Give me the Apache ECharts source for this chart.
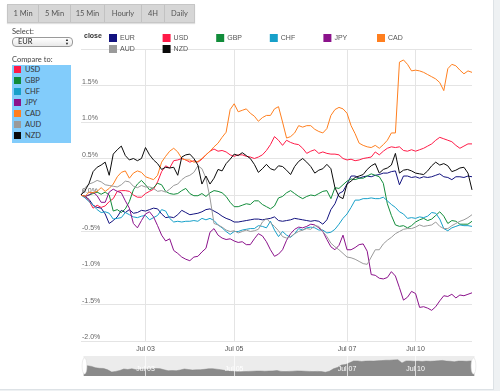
<!DOCTYPE html>
<html><head><meta charset="utf-8">
<script src="https://cdn.jsdelivr.net/npm/echarts@6/dist/echarts.min.js"></script>
<style>
html,body{margin:0;padding:0;width:500px;height:391px;overflow:hidden;background:#eef1f3;font-family:Lato,'Open Sans',sans-serif;}
#panel{position:absolute;left:0;top:0;width:493px;height:389px;background:#fff;border-right:1px solid #dde2e6;border-bottom:1px solid #dde2e6;}
#chart{position:absolute;left:0;top:0;width:500px;height:391px;z-index:2;}
#btns{position:absolute;left:7px;top:4px;height:17px;display:flex;background:#d6d6d6;border:1px solid #c6c6c6;box-shadow:0 1px 1px rgba(0,0,0,.12);z-index:5;}
#btns div{font-size:7.5px;color:#555;line-height:17px;text-align:center;border-right:1px solid #c2c2c2;}
#btns div:last-child{border-right:none;}
.lbl{position:absolute;left:12px;font-size:7.5px;color:#444;z-index:5;}
#sel{position:absolute;left:12px;top:37px;width:59px;height:8px;border:1px solid #9a9a9a;border-radius:4px;background:linear-gradient(#fff,#e9e9e9);font-size:7.5px;line-height:8px;color:#222;padding-left:0;z-index:5;}
#sel .t{position:absolute;left:5px;top:0;}
#sel .a{position:absolute;right:3px;top:0px;font-size:4px;line-height:4px;color:#222;}
#cmp{position:absolute;left:12px;top:65px;width:59px;height:78px;background:#82ccfb;z-index:5;}
#cmp .row{position:absolute;left:2px;height:11px;font-size:7.5px;color:#333;line-height:11px;}
#cmp .sq{display:inline-block;width:7px;height:7px;vertical-align:-1px;margin-right:4px;}
</style></head>
<body>
<div id="panel"></div>
<div id="chart"></div>
<div id="btns"></div>
<div class="lbl" style="top:27px">Select:</div>
<div id="sel"><span class="t">EUR</span><span class="a">▲<br>▼</span></div>
<div class="lbl" style="top:55px">Compare to:</div>
<div id="cmp"></div>
<script>
// ---- data ----
const seriesNames = ['EUR','USD','GBP','CHF','JPY','CAD','AUD','NZD'];
const seriesColors = ['#12127f','#ff1a47','#118c3a','#17a0c9','#8b128b','#ff7f1f','#9a9a9a','#0a0a0a'];
const compareNames = ['USD','GBP','CHF','JPY','CAD','AUD','NZD'];
const buttonLabels = ['1 Min','5 Min','15 Min','Hourly','4H','Daily'];
const buttonWidths = [30,31,33,36,22,29];
const dayNames = ['Jul 02','Jul 03','Jul 04','Jul 05','Jul 06','Jul 07','Jul 10','Jul 11'];
const dayStartIndex = [0,16,27,38,52,66,83,95];
const tickLabels = ['Jul 03','Jul 05','Jul 07','Jul 10'];
const yTicks = {min:-2, max:2, interval:0.5};

const EUR = [0,-0.02,-0.06,-0.14,-0.17,-0.18,-0.26,-0.39,-0.35,-0.30,-0.21,-0.24,-0.20,-0.25,-0.24,-0.21,-0.22,-0.20,-0.18,-0.19,-0.26,-0.31,-0.30,-0.31,-0.27,
 -0.21,-0.24,-0.27,-0.26,-0.25,-0.23,-0.20,-0.19,-0.22,-0.25,-0.29,-0.32,-0.34,-0.37,-0.37,-0.36,-0.35,-0.34,-0.33,-0.33,-0.34,-0.33,-0.32,-0.30,
 -0.35,-0.36,-0.35,-0.34,-0.32,-0.33,-0.34,-0.35,-0.36,-0.35,-0.36,-0.40,-0.34,-0.20,-0.12,0.02,0.05,0.15,0.26,0.26,0.23,0.25,0.26,0.25,0.27,
 0.28,0.30,0.30,0.32,0.33,0.14,0.26,0.26,0.24,0.25,0.23,0.25,0.24,0.25,0.27,0.29,0.25,0.24,0.21,0.25,0.25,0.24,0.26,0.25];
const USD = [0,-0.02,-0.08,-0.18,-0.14,-0.17,-0.15,-0.09,-0.05,0.05,0.06,0.06,0.05,0.00,-0.03,-0.03,0.02,0.05,0.08,0.18,0.32,0.40,0.37,0.47,0.48,
 0.50,0.48,0.45,0.47,0.45,0.49,0.55,0.60,0.63,0.60,0.61,0.59,0.55,0.53,0.55,0.55,0.53,0.52,0.50,0.52,0.55,0.61,0.69,0.80,
 0.75,0.68,0.75,0.72,0.70,0.69,0.64,0.57,0.60,0.62,0.57,0.59,0.57,0.56,0.56,0.55,0.50,0.48,0.49,0.47,0.48,0.50,0.51,0.52,0.59,
 0.55,0.60,0.64,0.66,0.65,0.66,0.61,0.60,0.62,0.60,0.62,0.64,0.67,0.70,0.75,0.79,0.77,0.75,0.73,0.68,0.64,0.67,0.70,0.70];
const GBP = [0,-0.02,0.00,0.02,0.04,0.01,0.04,0.00,-0.22,-0.20,-0.24,-0.19,-0.09,0.07,0.15,0.20,0.14,0.07,0.10,0.16,0.14,0.05,0.02,0.01,0.02,
 0.06,0.09,0.02,-0.01,-0.01,0.02,-0.02,0.03,0.06,0.05,0.03,-0.02,-0.10,-0.16,-0.16,-0.14,-0.12,-0.13,-0.08,-0.08,-0.13,-0.16,-0.19,-0.15,
 -0.04,-0.02,0.03,0.06,0.02,-0.02,-0.05,-0.02,0.00,-0.01,0.02,0.05,0.06,-0.05,0.10,0.09,0.14,0.19,0.22,0.21,0.23,0.23,0.26,0.29,0.27,
 0.25,0.16,-0.12,-0.28,-0.41,-0.43,-0.42,-0.45,-0.42,-0.37,-0.34,-0.32,-0.35,-0.33,-0.28,-0.23,-0.29,-0.39,-0.35,-0.36,-0.40,-0.40,-0.40,-0.36];
const CHF = [0,-0.04,-0.09,-0.14,-0.20,-0.24,-0.23,-0.25,-0.33,-0.32,-0.31,-0.24,-0.27,-0.30,-0.31,-0.29,-0.28,-0.34,-0.31,-0.28,-0.20,-0.22,-0.32,-0.37,-0.36,
 -0.37,-0.36,-0.36,-0.35,-0.36,-0.32,-0.34,-0.32,-0.35,-0.41,-0.45,-0.50,-0.54,-0.50,-0.50,-0.48,-0.47,-0.46,-0.46,-0.42,-0.43,-0.45,-0.36,-0.48,
 -0.57,-0.50,-0.55,-0.58,-0.53,-0.46,-0.48,-0.45,-0.44,-0.45,-0.48,-0.48,-0.52,-0.51,-0.47,-0.40,-0.32,-0.26,-0.17,-0.07,-0.07,-0.05,-0.05,-0.04,-0.05,
 -0.05,-0.03,-0.08,-0.13,-0.17,-0.23,-0.26,-0.32,-0.31,-0.32,-0.30,-0.31,-0.29,-0.24,-0.25,-0.33,-0.46,-0.49,-0.45,-0.43,-0.41,-0.42,-0.42,-0.43];
const JPY = [0,-0.02,0.00,0.04,-0.01,-0.10,-0.10,0.04,0.08,0.05,0.03,-0.08,-0.18,-0.39,-0.45,-0.35,-0.26,-0.23,-0.30,-0.42,-0.55,-0.63,-0.60,-0.76,-0.80,
 -0.85,-0.88,-0.90,-0.85,-0.84,-0.78,-0.73,-0.51,-0.46,-0.55,-0.59,-0.61,-0.60,-0.63,-0.65,-0.64,-0.68,-0.68,-0.60,-0.53,-0.56,-0.64,-0.75,-0.84,
 -0.81,-0.75,-0.62,-0.53,-0.47,-0.44,-0.45,-0.43,-0.40,-0.41,-0.45,-0.50,-0.61,-0.71,-0.75,-0.69,-0.55,-0.75,-0.75,-0.72,-0.68,-0.67,-0.77,-1.09,-1.10,
 -1.14,-1.15,-1.13,-1.05,-1.11,-1.27,-1.44,-1.40,-1.32,-1.35,-1.54,-1.53,-1.55,-1.58,-1.53,-1.45,-1.38,-1.39,-1.36,-1.41,-1.37,-1.38,-1.36,-1.34];
const CAD = [0,-0.02,0.04,0.03,0.05,0.10,0.05,0.09,0.15,0.25,0.31,0.33,0.23,0.30,0.33,0.31,0.25,0.23,0.21,0.27,0.45,0.53,0.60,0.64,0.59,
 0.50,0.48,0.48,0.45,0.46,0.50,0.55,0.60,0.66,0.71,0.79,0.86,1.17,1.25,1.14,1.16,1.18,1.12,1.08,1.01,1.06,1.09,1.09,1.18,
 1.21,1.00,0.78,0.80,0.85,0.95,0.93,0.95,0.95,0.90,0.87,0.85,0.91,1.09,1.17,1.20,1.18,1.12,0.95,0.84,0.71,0.68,0.66,0.65,0.68,
 0.64,0.69,0.75,0.85,0.85,1.82,1.85,1.79,1.70,1.71,1.70,1.68,1.65,1.62,1.59,1.54,1.43,1.73,1.79,1.77,1.71,1.66,1.70,1.68];
const AUD = [0,0.10,0.15,0.17,0.20,0.18,0.14,0.13,0.12,0.11,0.14,0.19,0.18,0.12,0.10,0.13,0.11,0.11,0.09,0.05,0.06,0.04,0.08,0.13,0.15,
 0.21,0.25,0.27,0.31,0.40,0.36,0.23,-0.04,-0.39,-0.41,-0.44,-0.48,-0.50,-0.49,-0.52,-0.50,-0.48,-0.50,-0.49,-0.47,-0.37,-0.32,-0.38,-0.43,
 -0.49,-0.57,-0.59,-0.57,-0.53,-0.50,-0.48,-0.46,-0.47,-0.42,-0.43,-0.50,-0.57,-0.66,-0.71,-0.75,-0.80,-0.85,-0.86,-0.88,-0.91,-0.94,-0.95,-0.85,-0.75,
 -0.75,-0.67,-0.62,-0.58,-0.53,-0.50,-0.47,-0.46,-0.46,-0.44,-0.41,-0.43,-0.42,-0.41,-0.37,-0.43,-0.46,-0.46,-0.42,-0.39,-0.36,-0.34,-0.31,-0.27];
const NZD = [0,0.06,0.16,0.32,0.38,0.41,0.45,0.27,0.56,0.62,0.67,0.54,0.48,0.50,0.47,0.50,0.65,0.55,0.48,0.43,0.35,0.38,0.37,0.38,0.27,
 0.52,0.55,0.56,0.50,0.41,0.15,0.26,0.15,0.23,0.35,0.33,0.43,0.49,0.56,0.54,0.58,0.54,0.50,0.42,0.31,0.36,0.42,0.36,0.34,
 0.40,0.39,0.34,0.28,0.39,0.46,0.50,0.45,0.39,0.30,0.34,0.36,0.42,0.36,0.10,-0.02,-0.05,0.15,0.19,0.24,0.26,0.28,0.35,0.40,0.43,
 0.30,0.35,0.37,0.41,0.57,0.30,0.34,0.35,0.33,0.30,0.29,0.28,0.33,0.40,0.45,0.41,0.43,0.40,0.32,0.34,0.37,0.38,0.30,0.07];
const seriesData = [EUR,USD,GBP,CHF,JPY,CAD,AUD,NZD];

// ---- HTML controls ----
const btns = document.getElementById('btns');
buttonLabels.forEach((t,i)=>{const d=document.createElement('div');d.style.width=buttonWidths[i]+'px';d.textContent=t;btns.appendChild(d);});
const cmp = document.getElementById('cmp');
compareNames.forEach((n,k)=>{
  const r=document.createElement('div');r.className='row';r.style.top=(-1.5+11*k)+'px';
  const c=seriesColors[seriesNames.indexOf(n)];
  r.innerHTML='<span class="sq" style="background:'+c+'"></span>'+n;cmp.appendChild(r);
});

// ---- categories ----
const N = EUR.length;
const categories = [];
for (let i=0;i<N;i++){
  let d=0; for(let k=0;k<dayStartIndex.length;k++){ if(dayStartIndex[k]<=i) d=k; }
  const next = d+1<dayStartIndex.length ? dayStartIndex[d+1] : N;
  const hh = Math.floor(24*(i-dayStartIndex[d])/(next-dayStartIndex[d]));
  categories.push(dayNames[d]+' '+String(hh).padStart(2,'0')+':00');
}
const tickIdx = tickLabels.map(l=>dayStartIndex[dayNames.indexOf(l)]);
const showTick = (idx)=>tickIdx.indexOf(idx)>=0;

// ---- legend columns ----
const cols = [['EUR','AUD'],['USD','NZD'],['GBP'],['CHF'],['JPY'],['CAD']];
const legends = cols.map((names,k)=>({
  data:names, left:104+53.6*k, top:29, orient:'vertical', icon:'rect',
  itemWidth:8, itemHeight:8, itemGap:3, selectedMode:false,
  textStyle:{fontSize:7,color:'#555',padding:[0,0,0,-2]}
}));

const chart = echarts.init(document.getElementById('chart'), null, {renderer:'canvas'});
chart.setOption({
  animation:false,
  backgroundColor:'transparent',
  color:seriesColors,
  title:{text:'close', left:79, top:28, textStyle:{fontSize:7,fontWeight:'bold',color:'#333'}},
  legend:legends,
  grid:[{left:81,right:28,top:49,bottom:50},{left:81,right:28,top:356,height:20}],
  xAxis:[{
    type:'category', data:categories, boundaryGap:false, gridIndex:0,
    axisLine:{show:false}, axisTick:{show:false},
    axisLabel:{interval:showTick, formatter:v=>v.slice(0,6), fontSize:7, color:'#555', margin:5},
    splitLine:{show:true, interval:showTick, lineStyle:{color:'#e4e4e4'}}
  },{
    type:'category', data:categories, boundaryGap:false, gridIndex:1, z:10,
    axisLine:{show:false}, axisTick:{show:false},
    axisLabel:{inside:true, interval:showTick, formatter:v=>v.slice(0,6), fontSize:7, color:'#fff', margin:3},
    splitLine:{show:true, interval:showTick, lineStyle:{color:'rgba(255,255,255,0.7)'}}
  }],
  yAxis:[{
    type:'value', gridIndex:0, min:yTicks.min, max:yTicks.max, interval:yTicks.interval,
    axisLine:{show:false}, axisTick:{show:false},
    axisLabel:{inside:true, showMaxLabel:false, verticalAlign:'bottom', margin:1, fontSize:7, color:'#666',
      formatter:v=>v.toFixed(1)+'%'},
    splitLine:{lineStyle:{color:'#e4e4e4'}}
  },{type:'value', gridIndex:1, show:false, min:0, max:1}],
  dataZoom:[{
    type:'slider', xAxisIndex:[0], start:0, end:100,
    left:81, right:28, top:356, height:20,
    showDetail:false, brushSelect:false, moveHandleSize:0,
    backgroundColor:'#ececec', borderColor:'transparent', fillerColor:'rgba(0,0,0,0)',
    handleIcon:'path://M3,0 C7,0 7,20 3,20 C-1,20 -1,0 3,0 Z', handleSize:'80%',
    handleStyle:{color:'#fff', borderColor:'#d8d8d8', borderWidth:0.5},
    dataBackground:{lineStyle:{color:'#858585',opacity:1}, areaStyle:{color:'#8a8a8a',opacity:1}},
    selectedDataBackground:{lineStyle:{color:'#858585',opacity:1}, areaStyle:{color:'#8a8a8a',opacity:1}}
  }],
  series:seriesNames.map((n,k)=>({
    name:n, type:'line', data:seriesData[k], xAxisIndex:0, yAxisIndex:0,
    showSymbol:false, symbol:'none', lineStyle:{width:1,color:seriesColors[k]},
    itemStyle:{color:seriesColors[k]}
  }))
});
</script>
</body></html>
